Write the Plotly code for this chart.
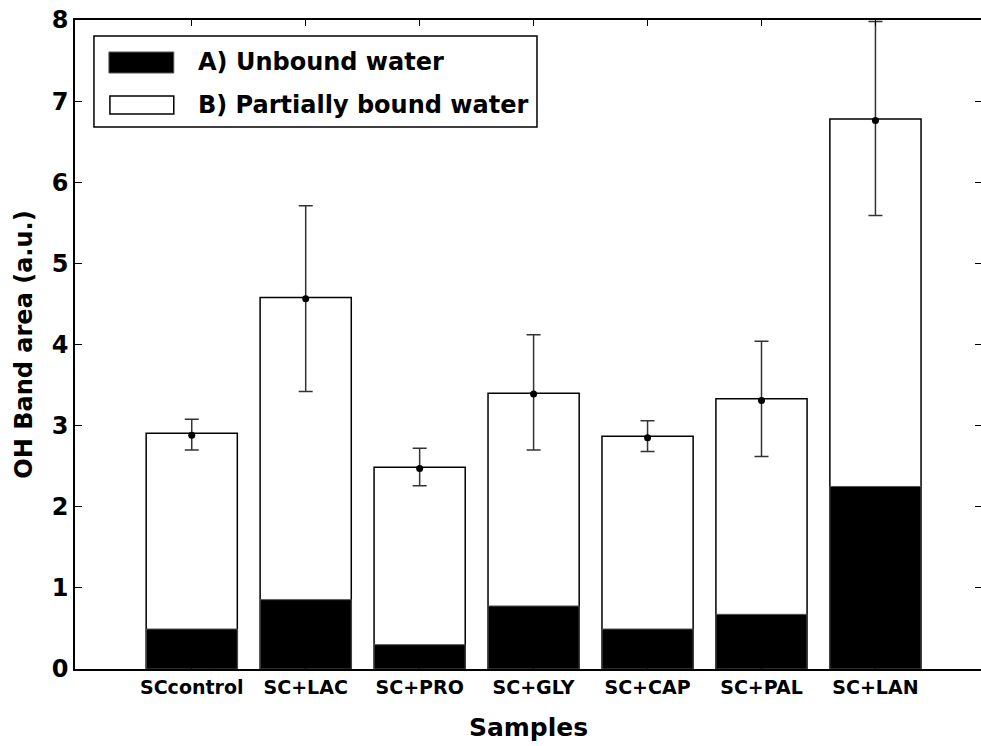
import plotly.graph_objects as go

# ---------------------------------------------------------------------------
# Data
# ---------------------------------------------------------------------------
samples = ["SCcontrol", "SC+LAC", "SC+PRO", "SC+GLY", "SC+CAP", "SC+PAL", "SC+LAN"]
total_area = [2.905, 4.58, 2.487, 3.40, 2.87, 3.33, 6.78]      # top of white bar
unbound_area = [0.493, 0.855, 0.30, 0.777, 0.493, 0.674, 2.25]  # black bar
mean_area = [2.88, 4.565, 2.47, 3.39, 2.85, 3.31, 6.76]
err_upper = [3.08, 5.71, 2.72, 4.12, 3.06, 4.04, 7.98]
err_lower = [2.70, 3.42, 2.26, 2.70, 2.68, 2.62, 5.59]

legend_labels = ["A) Unbound water", "B) Partially bound water"]

FONT = "DejaVu Sans"

# figure is a little wider than the window: the right frame edge is cropped
# off in the reference, only the tick stubs show
W, H = 984, 746
ML, MR, MT, MB = 75, 0, 20, 77
PW, PH = W - ML - MR, H - MT - MB


def px(x):
    return (x - ML) / PW


def py(y):
    return (H - MB - y) / PH


fig = go.Figure()

# -- Partially bound (white, full height) -----------------------------------
fig.add_trace(go.Bar(
    x=samples, y=total_area,
    marker=dict(color="white", line=dict(color="black", width=1.5)),
    width=0.8, showlegend=False, hoverinfo="skip",
))

# -- Unbound (black, overlaid at the bottom) --------------------------------
fig.add_trace(go.Bar(
    x=samples, y=unbound_area,
    marker=dict(color="black", line=dict(color="#555555", width=1)),
    width=0.8, showlegend=False, hoverinfo="skip",
))

# -- Mean with error bars ---------------------------------------------------
fig.add_trace(go.Scatter(
    x=samples, y=mean_area,
    mode="markers",
    marker=dict(color="black", size=7),
    error_y=dict(
        type="data", symmetric=False,
        array=[u - m for u, m in zip(err_upper, mean_area)],
        arrayminus=[m - l for m, l in zip(mean_area, err_lower)],
        color="#333333", thickness=1.5, width=7,
    ),
    showlegend=False,
))

# -- Legend (drawn by hand, to get the wide swatches) -----------------------
shapes = [
    dict(type="rect", xref="paper", yref="paper",
         x0=px(94), x1=px(538), y0=py(127), y1=py(36),
         line=dict(color="black", width=1.5), fillcolor="white", layer="above"),
    dict(type="rect", xref="paper", yref="paper",
         x0=px(109), x1=px(174), y0=py(73), y1=py(52),
         line=dict(color="#555555", width=1), fillcolor="black", layer="above"),
    dict(type="rect", xref="paper", yref="paper",
         x0=px(110), x1=px(174), y0=py(114), y1=py(96),
         line=dict(color="black", width=1.5), fillcolor="white", layer="above"),
]
for label, ymid in zip(legend_labels, [62, 105]):
    fig.add_annotation(
        x=px(196), y=py(ymid), xref="paper", yref="paper",
        xanchor="left", yanchor="middle", showarrow=False,
        text=label, font=dict(family=FONT, size=24, color="black", weight="bold"),
    )

# -- Layout -----------------------------------------------------------------
fig.update_layout(
    width=W, height=H,
    margin=dict(l=ML, r=MR, t=MT, b=MB),
    barmode="overlay",
    plot_bgcolor="white", paper_bgcolor="white",
    shapes=shapes,
    xaxis=dict(
        range=[-1.0245, 6.935],
        showline=True, linecolor="black", linewidth=1.5, mirror="ticks",
        ticks="inside", ticklen=6, tickcolor="black",
        showgrid=False, zeroline=False,
        tickfont=dict(family=FONT, size=19, color="black", weight="bold"),
        title=dict(text="Samples", standoff=22,
                   font=dict(family=FONT, size=25, color="black", weight="bold")),
    ),
    yaxis=dict(
        range=[0, 8], dtick=1,
        showline=True, linecolor="black", linewidth=1.5, mirror="ticks",
        ticks="inside", ticklen=7, tickcolor="black",
        showgrid=False, zeroline=False,
        tickfont=dict(family=FONT, size=24, color="black", weight="bold"),
        title=dict(text="OH Band area (a.u.)", standoff=12,
                   font=dict(family=FONT, size=24, color="black", weight="bold")),
    ),
)

# drop the page's default body margin (it would shift the figure by 8px)
# and hide the overflow of the slightly wider figure
fig.write_html(
    "out.html",
    config={"displayModeBar": False},
    post_script="document.body.style.margin='0px';"
                "document.body.style.overflow='hidden';",
)
